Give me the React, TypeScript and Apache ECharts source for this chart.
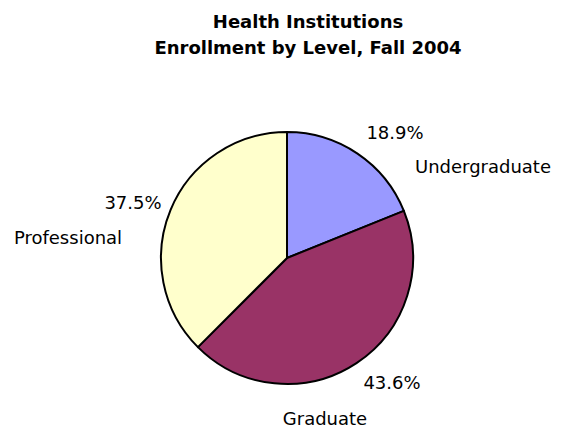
import React, { useEffect, useRef } from "react";
import * as echarts from "echarts";

const titleLines = ["Health Institutions", "Enrollment by Level, Fall 2004"];
const categories = ["Undergraduate", "Graduate", "Professional"];
const percents = [18.9, 43.6, 37.5];
const colors = ["#9999FF", "#993366", "#FFFFCC"];

// label anchor positions (layout only)
const pctPos = [
  [395, 132],
  [392, 382],
  [133, 202],
];
const namePos = [
  [483, 166],
  [325, 418],
  [68, 237],
];

export default function App() {
  const ref = useRef<HTMLDivElement>(null);
  useEffect(() => {
    document.body.style.margin = "0";
    const chart = echarts.init(ref.current!, null, { renderer: "svg" });
    const data = categories.map((name, i) => ({
      name,
      value: percents[i],
      itemStyle: { color: colors[i] },
    }));
    const font = "'DejaVu Sans', Verdana, sans-serif";
    chart.setOption({
      animation: false,
      backgroundColor: "#ffffff",
      title: {
        text: titleLines.join("\n"),
        left: 303,
        top: 3,
        textAlign: "center",
        textStyle: {
          fontFamily: font,
          fontWeight: "bold",
          fontSize: 18,
          lineHeight: 26,
          color: "#000",
        },
      },
      series: [
        {
          type: "pie",
          center: [287, 258],
          radius: 126,
          startAngle: 90,
          clockwise: true,
          silent: true,
          data,
          itemStyle: { borderColor: "#000", borderWidth: 2 },
          label: {
            show: true,
            position: "outside",
            formatter: (p: any) => `${Number(p.value).toFixed(1)}%`,
            fontFamily: font,
            fontSize: 18,
            color: "#000",
          },
          labelLine: { show: false },
          labelLayout: (p: any) => ({
            x: pctPos[p.dataIndex][0],
            y: pctPos[p.dataIndex][1],
            align: "center",
            verticalAlign: "middle",
          }),
        },
        {
          type: "pie",
          center: [287, 258],
          radius: 126,
          startAngle: 90,
          clockwise: true,
          silent: true,
          data: categories.map((name, i) => ({ name, value: percents[i] })),
          itemStyle: { color: "rgba(0,0,0,0)", borderWidth: 0 },
          label: {
            show: true,
            position: "outside",
            formatter: "{b}",
            fontFamily: font,
            fontSize: 18,
            color: "#000",
          },
          labelLine: { show: false },
          labelLayout: (p: any) => ({
            x: namePos[p.dataIndex][0],
            y: namePos[p.dataIndex][1],
            align: "center",
            verticalAlign: "middle",
          }),
        },
      ],
    });
    return () => chart.dispose();
  }, []);
  return <div ref={ref} style={{ width: 566, height: 436 }} />;
}
